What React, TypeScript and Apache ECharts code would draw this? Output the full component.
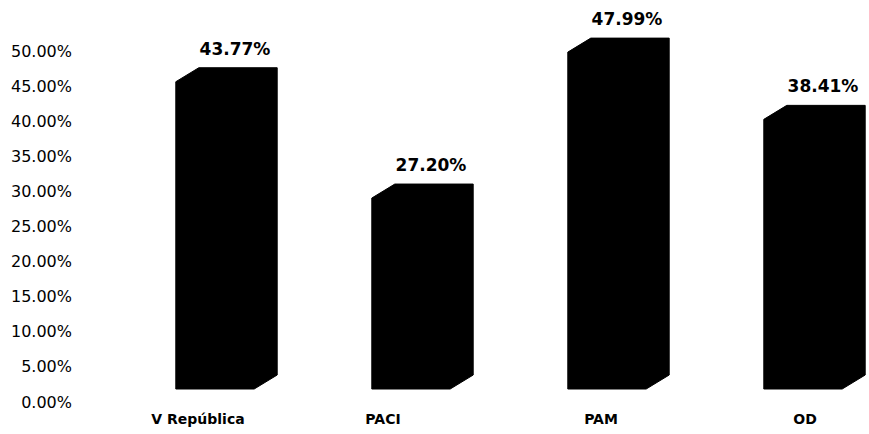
import React, { useEffect, useRef } from "react";
import * as echarts from "echarts";

const categories = ["V República", "PACI", "PAM", "OD"];
const values = [43.77, 27.2, 47.99, 38.41];
const yTicks = { min: 0, max: 50, interval: 5 };

// style-only horizontal nudges for the category labels (px, negative = left)
const labelNudge = [-17, -28, -6, 2];

const FONT = '"DejaVu Sans", Verdana, sans-serif';

export default function App() {
  const ref = useRef<HTMLDivElement>(null);
  useEffect(() => {
    if (!ref.current) return;
    const chart = echarts.init(ref.current, null, { renderer: "svg" });
    const depthX = 23;
    const depthY = -14;
    const lift = 13;
    chart.setOption({
      animation: false,
      backgroundColor: "#ffffff",
      grid: { left: 215, right: 66, top: 51, bottom: 32 },
      xAxis: {
        type: "category",
        boundaryGap: false,
        data: categories.map((c, i) => {
          const n = labelNudge[i];
          return {
            value: c,
            textStyle: {
              padding: n < 0 ? [0, -2 * n, 0, 0] : [0, 0, 0, 2 * n],
            },
          };
        }),
        axisLine: { show: false },
        axisTick: { show: false },
        axisLabel: {
          margin: 10,
          fontFamily: FONT,
          fontWeight: "bold",
          fontSize: 14,
          color: "#000",
          interval: 0,
        },
      },
      yAxis: {
        type: "value",
        min: yTicks.min,
        max: yTicks.max,
        interval: yTicks.interval,
        axisLine: { show: false },
        axisTick: { show: false },
        splitLine: { show: false },
        axisLabel: {
          margin: 143,
          fontFamily: FONT,
          fontSize: 16,
          color: "#000",
          formatter: (v: number) => v.toFixed(2) + "%",
        },
      },
      series: [
        {
          type: "custom",
          clip: false,
          encode: { x: 0, y: 1 },
          data: values.map((v, i) => [i, v]),
          renderItem: (params: any, api: any) => {
            const i = api.value(0);
            const v = api.value(1);
            const base = api.coord([i, 0]);
            const top = api.coord([i, v]);
            const w = api.size([1, 0])[0] * 0.4;
            const xl = base[0] - w / 2;
            const xr = base[0] + w / 2;
            const yb = base[1] - lift;
            const yt = top[1] - lift;
            return {
              type: "group",
              children: [
                {
                  type: "polygon",
                  shape: {
                    points: [
                      [xl, yb],
                      [xl, yt],
                      [xl + depthX, yt + depthY],
                      [xr + depthX, yt + depthY],
                      [xr + depthX, yb + depthY],
                      [xr, yb],
                    ],
                  },
                  style: { fill: "#000000", stroke: "#000000", lineWidth: 1 },
                },
                {
                  type: "text",
                  style: {
                    text: v.toFixed(2) + "%",
                    x: base[0] + 20,
                    y: yt + depthY - 19,
                    align: "center",
                    verticalAlign: "middle",
                    fontFamily: FONT,
                    fontWeight: "bold",
                    fontSize: 17,
                    fill: "#000",
                  },
                },
              ],
            };
          },
        },
      ],
    });
    return () => chart.dispose();
  }, []);
  return (
    <div
      ref={ref}
      style={{ position: "absolute", left: 0, top: 0, width: 869, height: 434 }}
    />
  );
}
